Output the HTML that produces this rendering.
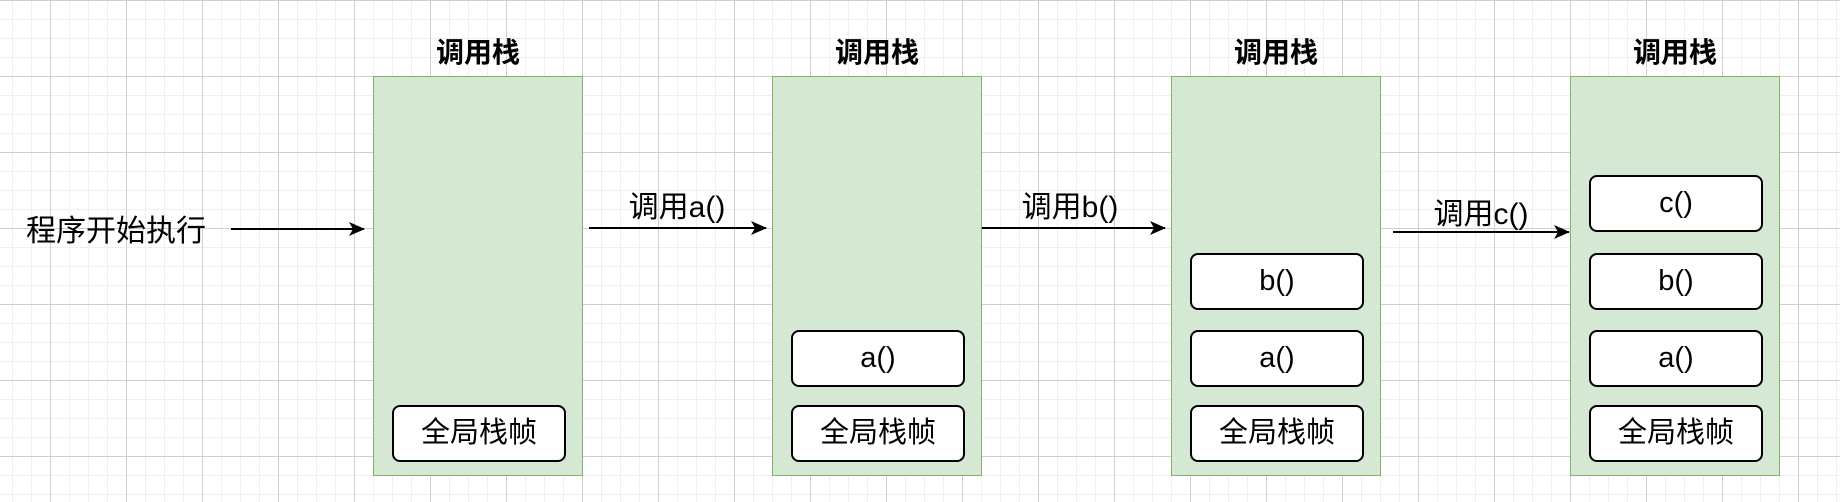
<!DOCTYPE html>
<html><head><meta charset="utf-8"><style>
body{margin:0;width:1840px;height:502px;overflow:hidden;background:#fff;
background-image:
linear-gradient(to right,#cfcfcf 1px,transparent 1px),
linear-gradient(to bottom,#cfcfcf 1px,transparent 1px),
linear-gradient(to right,#efefef 1px,transparent 1px),
linear-gradient(to bottom,#efefef 1px,transparent 1px);
background-size:76px 76px,76px 76px,19px 19px,19px 19px;
background-position:50px 0,0 0,12px 0,0 0;
font-family:"Liberation Sans","Noto Sans CJK SC",sans-serif;position:relative}
.stack{position:absolute;top:76px;width:208px;height:398px;background:#d5e8d4;border:1.5px solid #82b366}
.title{position:absolute;top:31px;width:210px;text-align:center;font-weight:bold;font-size:28px}
.f{position:absolute;left:18px;width:170px;height:53px;background:#fff;border:2px solid #000;border-radius:8px;text-align:center;line-height:53px;font-size:29px}
.lbl{position:absolute;font-size:30px;transform:translateX(-50%);white-space:nowrap}
svg{position:absolute;left:0;top:0}
</style></head><body>
<div class="title" style="left:373px">调用栈</div>
<div class="title" style="left:772px">调用栈</div>
<div class="title" style="left:1171px">调用栈</div>
<div class="title" style="left:1570px">调用栈</div>
<div class="stack" style="left:373px"><div class="f" style="top:328px">全局栈帧</div></div>
<div class="stack" style="left:772px"><div class="f" style="top:253px">a()</div><div class="f" style="top:328px">全局栈帧</div></div>
<div class="stack" style="left:1171px"><div class="f" style="top:176px">b()</div><div class="f" style="top:253px">a()</div><div class="f" style="top:328px">全局栈帧</div></div>
<div class="stack" style="left:1570px"><div class="f" style="top:98px">c()</div><div class="f" style="top:176px">b()</div><div class="f" style="top:253px">a()</div><div class="f" style="top:328px">全局栈帧</div></div>
<div class="lbl" style="left:116px;top:206px">程序开始执行</div>
<div class="lbl" style="left:677px;top:182px">调用a()</div>
<div class="lbl" style="left:1070px;top:182px">调用b()</div>
<div class="lbl" style="left:1481px;top:189px">调用c()</div>
<svg width="1840" height="502">
<defs><marker id="m" markerWidth="16" markerHeight="14" refX="15" refY="7" orient="auto" markerUnits="userSpaceOnUse"><path d="M0,0 L16,7 L0,14 L4,7z" fill="#000"/></marker></defs>
<g stroke="#000" stroke-width="2" marker-end="url(#m)">
<line x1="231" y1="229" x2="364" y2="229"/>
<line x1="589" y1="228" x2="766" y2="228"/>
<line x1="982" y1="228" x2="1165" y2="228"/>
<line x1="1393" y1="232" x2="1569" y2="232"/>
</g></svg>
</body></html>
